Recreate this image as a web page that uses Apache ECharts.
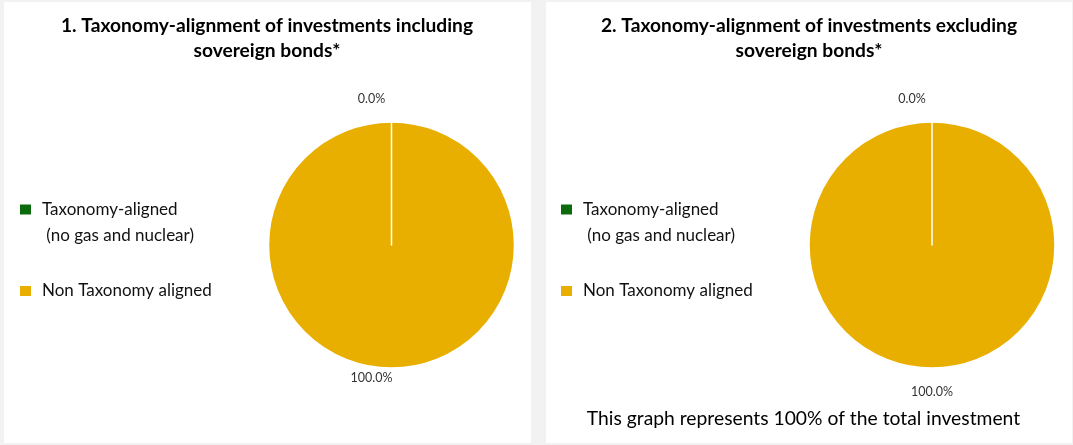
<!DOCTYPE html>
<html><head><meta charset="utf-8">
<script src="https://cdn.jsdelivr.net/npm/echarts@6/dist/echarts.min.js"></script>
<style>html,body{margin:0;padding:0;background:#f2f2f2}#c{width:1073px;height:445px}</style>
</head><body><div id="c"></div>
<script>
// ---- data ----
const categories = ['Taxonomy-aligned\n (no gas and nuclear)', 'Non Taxonomy aligned'];
const includingSovereign = [0, 100];
const excludingSovereign = [0, 100];
const chartTitles = [
  '1. Taxonomy-alignment of investments including\nsovereign bonds*',
  '2. Taxonomy-alignment of investments excluding\nsovereign bonds*'
];
const footnote = 'This graph represents 100% of the total investment';

// ---- styling ----
const colors = ['#0c6b0c', '#e9af00'];
const FONT = 'Lato';

const chart = echarts.init(document.getElementById('c'), null, {renderer: 'canvas'});

// slices drawn in reverse so the zero-width slice edge sits on top of the full slice
function pieData(values) {
  return categories.map((name, i) => ({name: name, value: values[i],
    itemStyle: {color: colors[i]}})).reverse();
}
function legendFor(left) {
  return {
    orient: 'vertical', left: left, top: 165.5, itemGap: 29.5,
    itemWidth: 13, itemHeight: 12, icon: 'rect', selectedMode: false,
    textStyle: {fontFamily: FONT, fontSize: 17, color: '#111', lineHeight: 26, padding: [0, 0, 0, 5]},
    formatter: name => (name === categories[0] ? '\n' + name : name),
    data: [categories[0], categories[1]]
  };
}
function pieSeries(values, center, offsets) {
  return {
    type: 'pie', radius: 123, center: center, startAngle: 90, clockwise: true,
    avoidLabelOverlap: false,
    data: pieData(values),
    itemStyle: {borderColor: '#ffffff', borderWidth: 1.5},
    label: {
      show: true, position: 'outside', alignTo: 'none',
      fontFamily: FONT, fontSize: 12.5, color: '#333',
      formatter: p => p.percent.toFixed(1) + '%'
    },
    labelLine: {show: false, length: 23, length2: 0},
    labelLayout: function (params) {
      const name = chart.getModel().getSeriesByIndex(params.seriesIndex).getData().getName(params.dataIndex);
      const o = offsets[categories.indexOf(name)];
      const midX = params.rect.x + params.rect.width / 2;
      return {x: midX + o[0], align: 'center', dy: o[1]};
    },
    emphasis: {disabled: true}
  };
}

chart.setOption({
  animation: false,
  backgroundColor: '#f2f2f2',
  graphic: [
    {type: 'rect', shape: {x: 4, y: 2, width: 527, height: 441}, style: {fill: '#ffffff'}, z: -10},
    {type: 'rect', shape: {x: 546, y: 2, width: 526, height: 441}, style: {fill: '#ffffff'}, z: -10}
  ],
  title: [
    {text: chartTitles[0], left: 262, top: 8, textAlign: 'center',
     textStyle: {fontFamily: FONT, fontSize: 19.2, fontWeight: 'bold', lineHeight: 25, color: '#000'}},
    {text: chartTitles[1], left: 804, top: 8, textAlign: 'center',
     textStyle: {fontFamily: FONT, fontSize: 19.2, fontWeight: 'bold', lineHeight: 25, color: '#000'}},
    {text: footnote, left: 798.5, top: 403, textAlign: 'center',
     textStyle: {fontFamily: FONT, fontSize: 19.3, fontWeight: 'normal', lineHeight: 22, color: '#000'}}
  ],
  legend: [legendFor(13), legendFor(554)],
  series: [
    pieSeries(includingSovereign, [391.5, 245], [[-20, 0], [-20, -13]]),
    pieSeries(excludingSovereign, [932, 245], [[-20, 0], [0, 1]])
  ]
});
</script></body></html>
